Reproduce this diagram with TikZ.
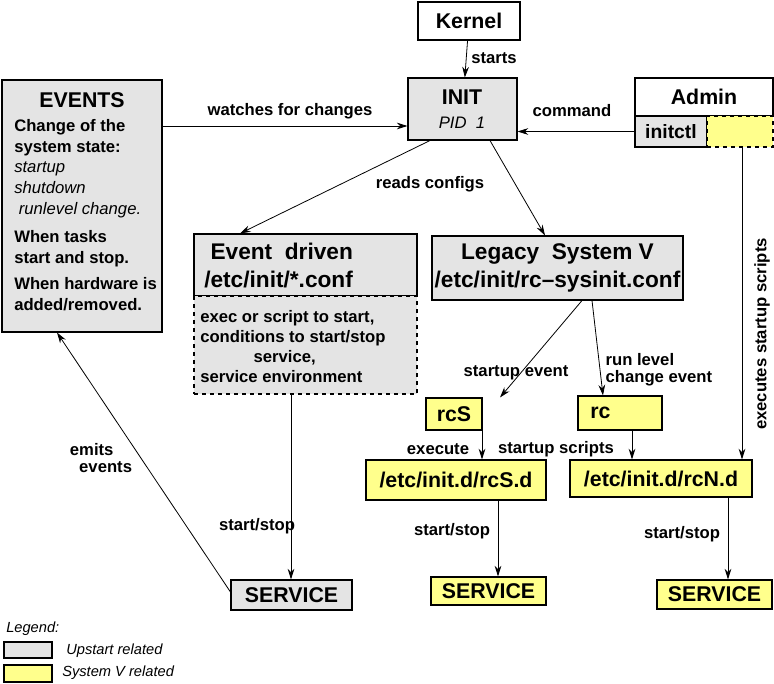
\documentclass[tikz,border=0pt]{standalone}
\usepackage{fontspec}
\setmainfont{Liberation Sans}
\usetikzlibrary{fit,arrows.meta}
\definecolor{ugray}{RGB}{228,228,228}
\definecolor{syel}{RGB}{255,255,140}
\begin{document}
\begin{tikzpicture}[x=0.75pt,y=-0.75pt,
  box/.style={draw,line width=0.8pt,inner sep=0pt},
  gbox/.style={box,fill=ugray},
  ybox/.style={box,fill=syel},
  wbox/.style={box,fill=white},
  tt/.style={font=\bfseries\fontsize{16}{19}\selectfont,align=center,inner sep=0pt},
  lab/.style={font=\bfseries\fontsize{12.5}{14.5}\selectfont,align=left,inner sep=1pt},
  arr/.style={-{Stealth[length=8pt,width=5pt]},line width=0.6pt}]
\useasboundingbox (0,0) rectangle (774,684);
% nodes
\node[wbox,fit={(418,2)(520,40)}] (kernel) {};
\node[tt] (kernelt) at (kernel) {Kernel};
\node[gbox,fit={(408,78)(517,140)}] (init) {};
\node[tt] (initt) at (462,97) {INIT};
\node[font=\itshape\fontsize{12.5}{14}\selectfont] (pid) at (462,123) {PID\ \ 1};
\node[wbox,fit={(635,78)(773,116)}] (admin) {};
\node[tt] (admint) at (admin) {Admin};
\node[gbox,fit={(635,116)(707,147)}] (initctl) {};
\node[tt,font=\bfseries\fontsize{14.5}{16}\selectfont] (initctlt) at (initctl) {initctl};
\node[ybox,dashed,fit={(707,116)(773,147)}] (ctly) {};
\node[gbox,fit={(2,80)(162,332)}] (events) {};
\node[tt] (evt) at (82,100) {EVENTS};
\node[anchor=north west,align=left,inner sep=0pt,font=\fontsize{12.5}{15.5}\selectfont] (evtx) at (14,119)
 {\textbf{Change of the}\\\textbf{system state:}\\\textit{startup}\\\textit{shutdown}\\\textit{\ runlevel change.}\\[6pt]\textbf{When tasks}\\\textbf{start and stop.}\\[4pt]\textbf{When hardware is}\\\textbf{added/removed.}};
\node[gbox,fit={(194,234)(417,296)}] (evd) {};
\node[tt,align=left,anchor=west,font=\bfseries\fontsize{17}{21}\selectfont] (evdt) at (204,266) {\ Event\ \ driven\\/etc/init/*.conf};
\node[gbox,dashed,fit={(194,296)(417,394)}] (evdd) {};
\node[anchor=north west,align=left,inner sep=0pt,font=\bfseries\fontsize{12.5}{15}\selectfont] (evdx) at (200,310)
 {exec or script to start,\\conditions to start/stop\\\hspace*{3.2em}service,\\service environment};
\node[gbox,fit={(432,236)(683,300)}] (legacy) {};
\node[tt,font=\bfseries\fontsize{17}{21}\selectfont] (legacyt) at (legacy) {Legacy\ \ System V\\/etc/init/rc--sysinit.conf};
\node[ybox,fit={(426,398)(482,430)}] (rcs) {};
\node[tt] (rcst) at (rcs) {rcS};
\node[ybox,fit={(578,396)(662,430)}] (rc) {};
\node[tt,anchor=west] (rct) at (590,413) {rc};
\node[ybox,fit={(366,460)(546,500)}] (rcsd) {};
\node[tt] (rcsdt) at (rcsd) {/etc/init.d/rcS.d};
\node[ybox,fit={(570,460)(752,497)}] (rcnd) {};
\node[tt] (rcndt) at (rcnd) {/etc/init.d/rcN.d};
\node[gbox,fit={(231,580)(352,610)}] (s1) {};
\node[tt] (s1t) at (s1) {SERVICE};
\node[ybox,fit={(431,577)(546,605)}] (s2) {};
\node[tt] (s2t) at (s2) {SERVICE};
\node[ybox,fit={(657,580)(772,609)}] (s3) {};
\node[tt] (s3t) at (s3) {SERVICE};
% legend
\node[anchor=west,font=\itshape\fontsize{11}{13}\selectfont,inner sep=0pt] (leg) at (6,629) {Legend:};
\node[gbox,fit={(4,642)(52,658)}] (lg1) {};
\node[anchor=west,font=\itshape\fontsize{11}{13}\selectfont,inner sep=0pt] (lg1t) at (66,651) {Upstart related};
\node[ybox,fit={(4,665)(52,682)}] (lg2) {};
\node[anchor=west,font=\itshape\fontsize{11}{13}\selectfont,inner sep=0pt] (lg2t) at (62,673) {System V related};
% connectors
\draw[arr] (kernel) -- (init);
\node[lab] (l1) at (494,58) {starts};
\draw[arr] (events.east |- 0,126) -- (init.west |- 0,126);
\node[lab] (l2) at (290,111) {watches for changes};
\draw[arr] (initctl.west) -- (init.east |- initctl.west);
\node[lab] (l3) at (572,111) {command};
\draw[arr] (init.south -| 430,0) -- (evd.north -| 240,0);
\draw[arr] (init.south -| 490,0) -- (legacy.north -| 545,0);
\node[lab] (l4) at (430,184) {reads configs};
\draw[arr] (ctly.south -| 742,0) -- (rcnd.north -| 742,0);
\node[lab,rotate=90] (l5) at (762,334) {executes startup scripts};
\draw[arr] (legacy.south -| 582,0) -- (rcs.north -| 500,0);
\node[lab] (l6) at (516,373) {startup event};
\draw[arr] (legacy.south -| 592,0) -- (rc.north -| 603,0);
\node[lab,anchor=west] (l7) at (604,370) {run level\\[-2pt]change event};
\draw[arr] (rcs.south -| 482,0) -- (rcsd.north -| 482,0);
\node[lab] (l8) at (438,449) {execute};
\node[lab] (l9) at (556,449) {startup scripts};
\draw[arr] (rc.south -| 632,0) -- (rcnd.north -| 632,0);
\draw[arr] (rcsd.south -| 498,0) -- (s2.north -| 498,0);
\node[lab] (l10) at (452,531) {start/stop};
\draw[arr] (rcnd.south -| 728,0) -- (s3.north -| 728,0);
\node[lab] (l11) at (682,534) {start/stop};
\draw[arr] (evdd.south -| 291,0) -- (s1.north -| 291,0);
\node[lab] (l12) at (257,526) {start/stop};
\draw[arr] (s1.west |- 0,592) -- (events.south -| 57,0);
\node[lab] (l13) at (101,458) {emits\\[-2pt]\ \ events};
\end{tikzpicture}
\end{document}
